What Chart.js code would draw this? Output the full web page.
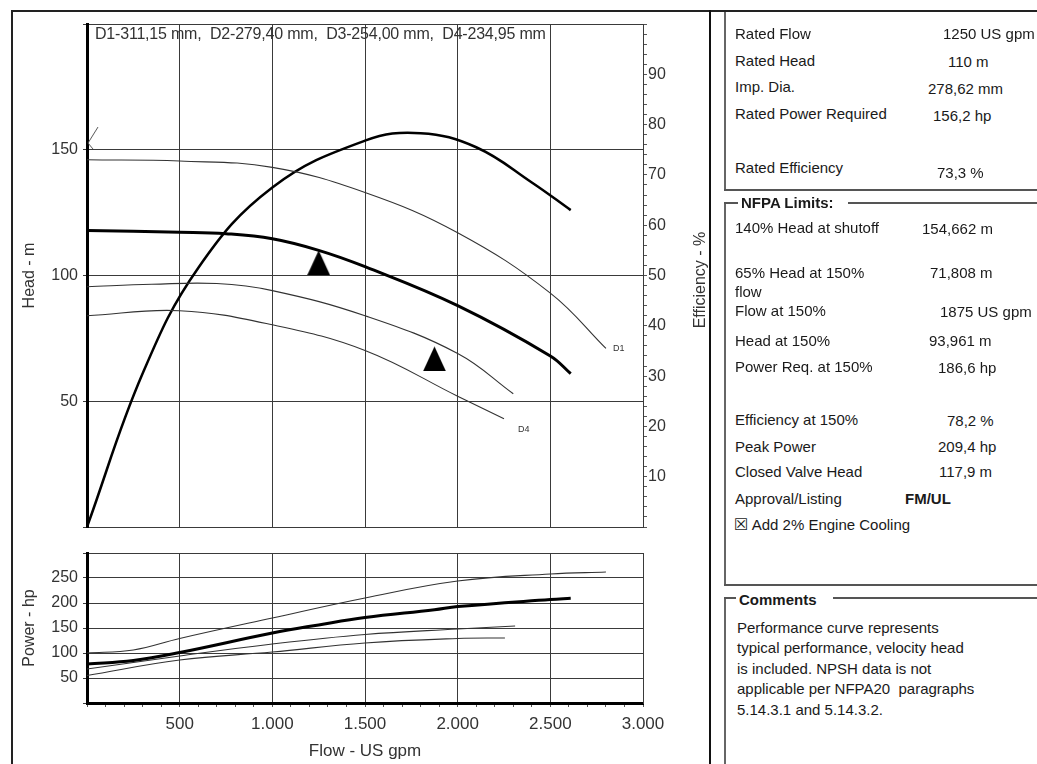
<!DOCTYPE html>
<html>
<head>
<meta charset="utf-8">
<script src="https://cdn.jsdelivr.net/npm/chart.js@4.4.1/dist/chart.umd.min.js"></script>
<style>
  body { margin: 0; background: #fff; }
  #page { position: relative; width: 1037px; height: 764px; overflow: hidden; background: #fff;
          font-family: "Liberation Sans", Arial, sans-serif; color: #1a1a1a; }
  canvas { position: absolute; }
  .ln { position: absolute; background: #333; }
  .t { position: absolute; white-space: pre; font-size: 15px; line-height: 18px; }
  .b { font-weight: bold; }
</style>
</head>
<body>
<div id="page">
  <!-- cadre du graphique -->
  <div class="ln" style="left:12px;top:10px;width:1025px;height:2px;background:#222"></div>
  <div class="ln" style="left:11px;top:10px;width:2px;height:754px;background:#222"></div>
  <div class="ln" style="left:709px;top:10px;width:2px;height:754px;background:#111"></div>

  <!-- boites de droite -->
  <div class="ln" style="left:724px;top:12px;width:2px;height:178px;background:#666"></div>
  <div class="ln" style="left:724px;top:189px;width:313px;height:2px;background:#555"></div>

  <div class="ln" style="left:724px;top:203px;width:2px;height:383px;background:#666"></div>
  <div class="ln" style="left:724px;top:202px;width:14px;height:2px;background:#555"></div>
  <div class="ln" style="left:848px;top:202px;width:189px;height:2px;background:#555"></div>
  <div class="ln" style="left:724px;top:584px;width:313px;height:2px;background:#555"></div>

  <div class="ln" style="left:724px;top:598px;width:2px;height:166px;background:#666"></div>
  <div class="ln" style="left:724px;top:597px;width:12px;height:2px;background:#555"></div>
  <div class="ln" style="left:833px;top:597px;width:204px;height:2px;background:#555"></div>

  <canvas id="head" width="698" height="529" style="left:12px;top:11px"></canvas>
  <canvas id="power" width="698" height="224" style="left:12px;top:540px"></canvas>

  <div class="t" style="left:95px;top:25px;font-size:16px;color:#333;letter-spacing:-0.2px">D1-311,15 mm,  D2-279,40 mm,  D3-254,00 mm,  D4-234,95 mm</div>
  <div class="t" style="left:640px;top:271px;width:120px;text-align:center;font-size:16px;color:#333;transform:rotate(-90deg)">Efficiency - %</div>

  <div class="t" style="left:735px;top:25px">Rated Flow</div>
  <div class="t" style="left:943px;top:25px">1250 US gpm</div>
  <div class="t" style="left:735px;top:52px">Rated Head</div>
  <div class="t" style="left:948px;top:53px">110 m</div>
  <div class="t" style="left:735px;top:78px">Imp. Dia.</div>
  <div class="t" style="left:928px;top:80px">278,62 mm</div>
  <div class="t" style="left:735px;top:105px">Rated Power Required</div>
  <div class="t" style="left:933px;top:107px">156,2 hp</div>
  <div class="t" style="left:735px;top:159px">Rated Efficiency</div>
  <div class="t" style="left:937px;top:164px">73,3 %</div>

  <div class="t b" style="left:741px;top:194px">NFPA Limits:</div>
  <div class="t" style="left:735px;top:219px">140% Head at shutoff</div>
  <div class="t" style="left:922px;top:220px">154,662 m</div>
  <div class="t" style="left:735px;top:264px">65% Head at 150%</div>
  <div class="t" style="left:930px;top:264px">71,808 m</div>
  <div class="t" style="left:735px;top:283px">flow</div>
  <div class="t" style="left:735px;top:302px">Flow at 150%</div>
  <div class="t" style="left:940px;top:303px">1875 US gpm</div>
  <div class="t" style="left:735px;top:332px">Head at 150%</div>
  <div class="t" style="left:929px;top:332px">93,961 m</div>
  <div class="t" style="left:735px;top:358px">Power Req. at 150%</div>
  <div class="t" style="left:938px;top:359px">186,6 hp</div>
  <div class="t" style="left:735px;top:411px">Efficiency at 150%</div>
  <div class="t" style="left:947px;top:412px">78,2 %</div>
  <div class="t" style="left:735px;top:438px">Peak Power</div>
  <div class="t" style="left:938px;top:438px">209,4 hp</div>
  <div class="t" style="left:735px;top:463px">Closed Valve Head</div>
  <div class="t" style="left:939px;top:463px">117,9 m</div>
  <div class="t" style="left:735px;top:490px">Approval/Listing</div>
  <div class="t b" style="left:905px;top:490px">FM/UL</div>
  <div class="t" style="left:734px;top:516px"><span style="font-family:'DejaVu Sans';font-size:16px">☒</span> Add 2% Engine Cooling</div>

  <div class="t b" style="left:739px;top:591px">Comments</div>
  <div class="t" style="left:737px;top:619px">Performance curve represents</div>
  <div class="t" style="left:737px;top:639px">typical performance, velocity head</div>
  <div class="t" style="left:737px;top:660px">is included. NPSH data is not</div>
  <div class="t" style="left:737px;top:680px">applicable per NFPA20  paragraphs</div>
  <div class="t" style="left:737px;top:701px">5.14.3.1 and 5.14.3.2.</div>
</div>

<script>
// Courbes hauteur (m) en fonction du débit (US gpm)
const d1Flow = [0, 500, 1000, 1500, 2000, 2500, 2800];
const d1Head = [146, 145.5, 143, 133, 117, 93, 71];
const ratedFlowPts = [0, 500, 750, 1000, 1250, 1500, 2000, 2500, 2610];
const ratedHead = [117.9, 117.2, 116.6, 114.6, 110, 103.5, 88, 68, 61];
const d3Flow = [0, 350, 700, 1000, 1500, 2000, 2300];
const d3Head = [95.5, 96.5, 96.8, 94, 84, 69, 53];
const d4Flow = [0, 500, 1000, 1500, 2000, 2250];
const d4Head = [84, 86, 80.4, 70.2, 52, 43];

// Rendement (%)
const effFlow = [0, 300, 600, 1000, 1500, 1800, 2100, 2400, 2610];
const effPct = [0, 30.5, 51.5, 67.5, 76.8, 78.3, 75.5, 68.5, 63];

// Puissance (hp)
const d1PowFlow = [0, 250, 500, 1000, 1500, 2000, 2500, 2800];
const d1Pow = [100, 106, 129, 170, 210, 244, 258, 262];
const ratedPowFlow = [0, 250, 500, 1000, 1250, 1500, 1875, 2000, 2500, 2610];
const ratedPow = [78, 85, 101, 140, 156.2, 171, 186.6, 193, 207, 209.4];
const d3PowFlow = [0, 500, 1000, 1500, 2000, 2310];
const d3Pow = [68, 94, 118, 137, 148, 154];
const d4PowFlow = [0, 500, 1000, 1500, 2000, 2255];
const d4Pow = [55, 86, 102, 120, 129, 130];

// Points caractéristiques
const ratedPoint = { flow: 1250, head: 110 };
const nfpaPoint = { flow: 1875, head: 71.808 };
const shutoffPoint = { flow: 0, head: 154.662 };

const xTicks = [500, 1000, 1500, 2000, 2500, 3000];

const FONT = '"Liberation Sans", Arial, sans-serif';
const GRID = '#3a3a3a';
const TXT = '#333';

function pts(xs, ys) {
    return xs.map((x, i) => ({ x: x, y: ys[i] }));
}

function fmt(v) {
    return String(v).replace(/\B(?=(\d{3})+(?!\d))/g, '.');
}

// triangle dont la pointe est au centre de l'image
function apexTriangle(w, h) {
    const c = document.createElement('canvas');
    c.width = w; c.height = h * 2;
    const g = c.getContext('2d');
    g.fillStyle = '#000';
    g.beginPath();
    g.moveTo(w / 2, h);
    g.lineTo(w, h * 2);
    g.lineTo(0, h * 2);
    g.closePath();
    g.fill();
    return c;
}

// petit repère en "<" pour la hauteur à vanne fermée
function shutoffMark() {
    const c = document.createElement('canvas');
    c.width = 30; c.height = 30;
    const g = c.getContext('2d');
    g.strokeStyle = '#555';
    g.lineWidth = 1;
    g.beginPath();
    g.moveTo(26, 4);
    g.lineTo(16, 20);
    g.lineTo(21, 26);
    g.stroke();
    return c;
}

const endLabels = {
    id: 'endLabels',
    afterDatasetsDraw(chart) {
        const ctx = chart.ctx;
        chart.data.datasets.forEach((ds, i) => {
            if (!ds.endLabel) return;
            const meta = chart.getDatasetMeta(i);
            const last = meta.data[meta.data.length - 1];
            ctx.save();
            ctx.font = '9px ' + FONT;
            ctx.fillStyle = '#333';
            ctx.textBaseline = 'middle';
            ctx.fillText(ds.endLabel, last.x + ds.endLabelOffset[0], last.y + ds.endLabelOffset[1]);
            ctx.restore();
        });
    }
};

function line(data, width, color, yAxisID) {
    return {
        data: data,
        borderColor: color,
        borderWidth: width,
        pointRadius: 0,
        tension: 0.4,
        yAxisID: yAxisID,
        fill: false
    };
}

const tickFont = { family: FONT, size: 16 };

// Graphique hauteur / rendement
new Chart(document.getElementById('head'), {
    type: 'line',
    data: {
        datasets: [
            Object.assign(line(pts(d1Flow, d1Head), 1.1, '#333', 'head'), { endLabel: 'D1', endLabelOffset: [7, 0] }),
            line(pts(ratedFlowPts, ratedHead), 3, '#000', 'head'),
            line(pts(d3Flow, d3Head), 1.1, '#333', 'head'),
            Object.assign(line(pts(d4Flow, d4Head), 1.1, '#333', 'head'), { endLabel: 'D4', endLabelOffset: [14, 11] }),
            line(pts(effFlow, effPct), 2.5, '#000', 'eff'),
            {
                data: [{ x: ratedPoint.flow, y: ratedPoint.head }, { x: nfpaPoint.flow, y: nfpaPoint.head }],
                showLine: false, pointStyle: apexTriangle(23, 25), pointRadius: 12, yAxisID: 'head'
            },
            {
                data: [{ x: shutoffPoint.flow, y: shutoffPoint.head }],
                showLine: false, pointStyle: shutoffMark(), pointRadius: 12, yAxisID: 'head'
            }
        ]
    },
    options: {
        responsive: false,
        animation: false,
        events: [],
        layout: { padding: { top: 9, left: 0, right: 0, bottom: 0 } },
        plugins: { legend: { display: false }, tooltip: { enabled: false } },
        scales: {
            x: {
                type: 'linear', min: 0, max: 3000,
                ticks: { display: false, stepSize: 500 },
                grid: { color: GRID, lineWidth: 1, drawTicks: false },
                border: { color: GRID, width: 1 },
                afterFit: s => { s.height = 8; s.paddingLeft = 0; s.paddingRight = 0; }
            },
            head: {
                position: 'left', min: 0, max: 200,
                ticks: { stepSize: 50, autoSkip: false, padding: 5, color: TXT, font: tickFont,
                         callback: v => (v > 0 && v < 200) ? v : '' },
                grid: { color: GRID, lineWidth: 1, tickLength: 4 },
                border: { color: '#000', width: 3 },
                title: { display: true, text: 'Head - m', color: TXT, font: tickFont, padding: { top: 8, bottom: 0 } },
                afterFit: s => { s.width = 75; s.paddingTop = 0; s.paddingBottom = 0; }
            },
            eff: {
                position: 'right', min: 0, max: 100,
                ticks: { stepSize: 2, autoSkip: false, padding: 1, color: TXT, font: tickFont,
                         callback: v => (v % 10 === 0 && v > 0 && v < 100) ? v : '' },
                grid: { drawOnChartArea: false, color: '#555', tickLength: 4 },
                border: { color: GRID, width: 1 },
                afterFit: s => { s.width = 67; s.paddingTop = 0; s.paddingBottom = 0; }
            }
        }
    },
    plugins: [endLabels]
});

// Graphique puissance
new Chart(document.getElementById('power'), {
    type: 'line',
    data: {
        datasets: [
            line(pts(d1PowFlow, d1Pow), 1.1, '#333', 'power'),
            line(pts(ratedPowFlow, ratedPow), 3, '#000', 'power'),
            line(pts(d3PowFlow, d3Pow), 1.1, '#333', 'power'),
            line(pts(d4PowFlow, d4Pow), 1.1, '#333', 'power')
        ]
    },
    options: {
        responsive: false,
        animation: false,
        events: [],
        layout: { padding: { top: 13, left: 0, right: 0, bottom: 0 } },
        plugins: { legend: { display: false }, tooltip: { enabled: false } },
        scales: {
            x: {
                type: 'linear', min: 0, max: 3000,
                ticks: { stepSize: 100, autoSkip: false, maxRotation: 0, padding: 7, color: TXT, font: { family: FONT, size: 17 },
                         callback: v => xTicks.includes(v) ? fmt(v) : '' },
                grid: {
                    color: c => (c.tick && c.tick.value % 500 === 0) ? GRID : 'rgba(0,0,0,0)',
                    tickColor: '#555', tickLength: 4, lineWidth: 1
                },
                border: { color: '#000', width: 3 },
                title: { display: true, text: 'Flow - US gpm', color: TXT, font: { family: FONT, size: 17 }, padding: { top: 0, bottom: 2 } },
                afterFit: s => { s.height = 61; s.paddingLeft = 0; s.paddingRight = 0; }
            },
            power: {
                position: 'left', min: 0, max: 300,
                ticks: { stepSize: 50, autoSkip: false, padding: 5, color: TXT, font: tickFont,
                         callback: v => (v > 0 && v < 300) ? v : '' },
                grid: { color: GRID, lineWidth: 1, tickLength: 4 },
                border: { color: '#000', width: 3 },
                title: { display: true, text: 'Power - hp', color: TXT, font: tickFont, padding: { top: 8, bottom: 0 } },
                afterFit: s => { s.width = 75; s.paddingTop = 0; s.paddingBottom = 0; }
            },
            edge: {
                position: 'right', min: 0, max: 300,
                ticks: { display: false },
                grid: { drawOnChartArea: false, drawTicks: false },
                border: { color: GRID, width: 1 },
                afterFit: s => { s.width = 67; s.paddingTop = 0; s.paddingBottom = 0; }
            }
        }
    }
});
</script>
</body>
</html>
